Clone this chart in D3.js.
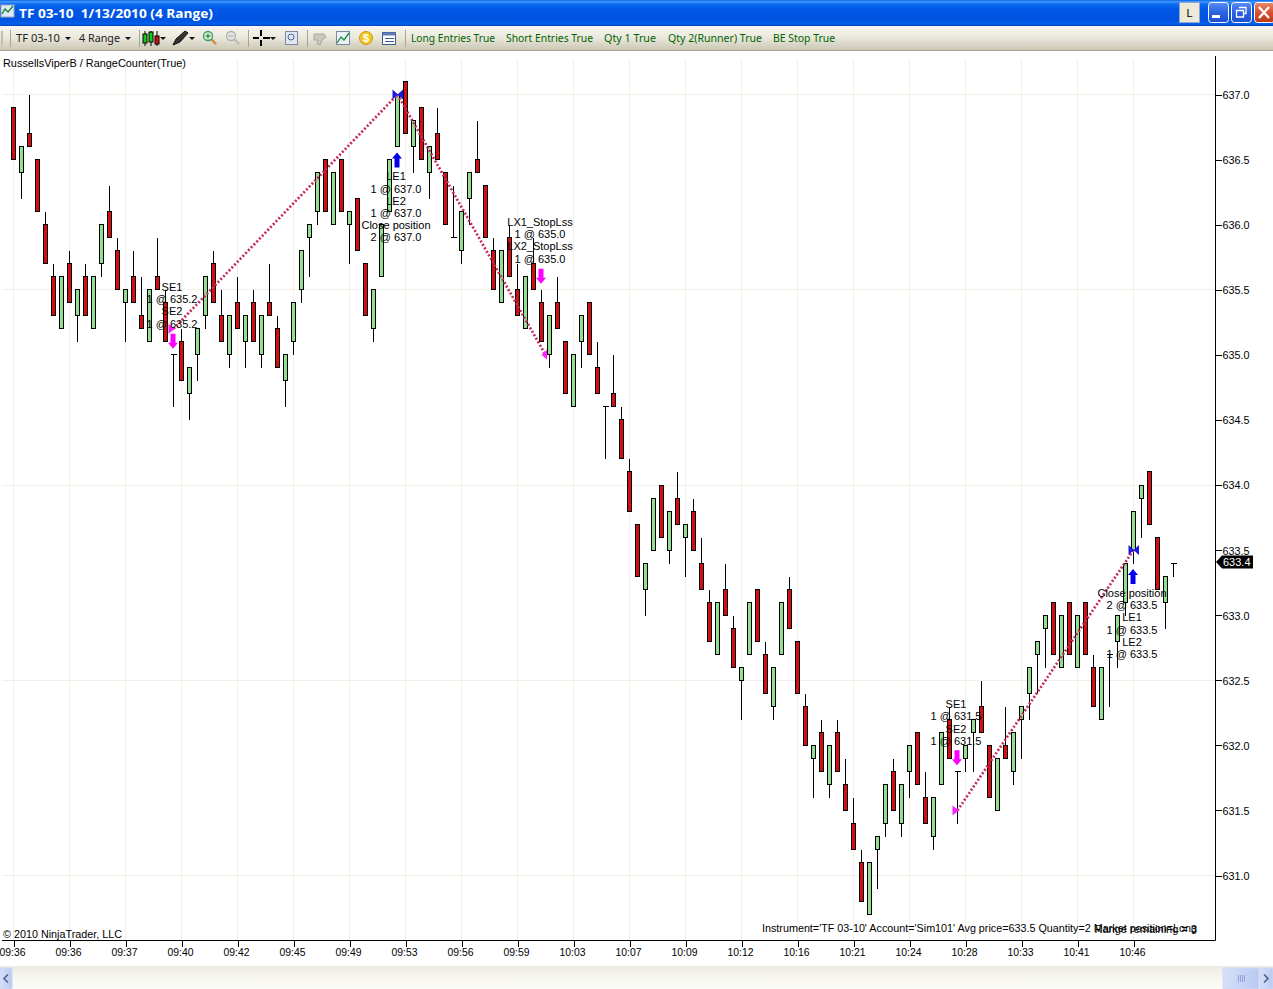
<!DOCTYPE html>
<html><head><meta charset="utf-8">
<script src="https://cdn.jsdelivr.net/npm/d3@7/dist/d3.min.js"></script>
<style>
html,body{margin:0;padding:0;background:#fff;overflow:hidden}
svg{display:block}
text{font-family:"Liberation Sans",Arial,sans-serif;font-size:11px;fill:#000;white-space:pre}
.ui{font-family:"Noto Sans",Tahoma,sans-serif}
</style></head><body>
<svg id="c" width="1273" height="989" xmlns="http://www.w3.org/2000/svg"></svg>
<script>
// ---- data ----
const opens = [636.9,636.4,636.7,636.5,636.0,635.6,635.2,635.7,635.3,635.6,635.2,635.7,636.1,635.8,635.4,635.6,635.3,635.1,635.6,635.4,
635.0,635.1,634.7,635.0,635.3,635.7,635.3,635.0,635.4,635.1,635.4,635.0,635.4,635.2,634.8,635.1,635.5,635.9,636.1,636.5,
636.0,636.5,636.0,636.2,635.7,635.2,635.6,636.1,636.6,637.1,636.6,636.9,636.4,636.7,636.4,635.9,635.8,636.2,636.5,636.3,
635.8,635.4,635.9,635.5,635.2,635.7,635.4,635.0,635.4,635.1,634.6,635.1,635.4,634.9,634.6,634.7,634.5,634.1,633.7,633.2,
633.5,634.0,633.5,633.9,633.6,633.8,633.4,633.1,632.7,633.2,632.9,632.5,632.7,633.2,632.7,632.3,632.7,633.2,632.8,632.3,
631.9,632.1,631.7,632.1,631.7,631.4,631.1,630.7,631.2,631.4,631.8,631.4,631.8,632.1,631.6,631.3,631.7,632.2,631.8,631.9,
632.1,632.3,632.0,631.5,632.0,631.8,632.2,632.4,632.7,632.9,633.1,632.6,633.1,632.6,633.1,632.6,632.2,632.7,632.8,633.1,
633.5,633.9,634.1,633.6,633.1,633.4];
const closes = [636.5,636.6,636.6,636.1,635.7,635.3,635.6,635.4,635.5,635.3,635.6,636.0,635.9,635.5,635.5,635.4,635.2,635.5,635.5,635.1,
635.0,634.8,634.9,635.2,635.6,635.4,635.1,635.3,635.2,635.3,635.1,635.3,635.3,634.9,635.0,635.4,635.8,636.0,636.4,636.1,
636.4,636.1,636.1,635.8,635.3,635.5,636.0,636.5,637.0,636.7,636.8,636.5,636.6,636.5,636.0,635.9,636.1,636.4,636.4,635.9,
635.5,635.8,635.6,635.3,635.6,635.5,635.1,635.3,635.2,634.7,635.0,635.3,635.0,634.7,634.6,634.6,634.2,633.8,633.3,633.4,
633.9,633.6,633.8,633.7,633.7,633.5,633.2,632.8,633.1,633.0,632.6,632.6,633.1,632.8,632.4,632.6,633.1,632.9,632.4,632.0,
632.0,631.8,632.0,631.8,631.5,631.2,630.8,631.1,631.3,631.7,631.5,631.7,632.0,631.7,631.4,631.6,632.1,631.9,631.8,632.0,
632.2,632.1,631.6,631.9,631.9,632.1,632.3,632.6,632.8,633.0,632.7,633.0,632.7,633.0,632.7,632.3,632.6,632.7,633.0,633.4,
633.8,634.0,633.7,633.2,633.3,633.4];
const highs = [636.9,636.6,637.0,636.5,636.1,635.7,635.6,635.8,635.5,635.7,635.6,636.0,636.3,635.9,635.5,635.8,635.6,635.5,635.9,635.5,
635.0,635.2,634.9,635.2,635.6,635.8,635.5,635.3,635.6,635.3,635.5,635.3,635.7,635.3,635.0,635.4,635.8,636.0,636.4,636.5,
636.4,636.5,636.1,636.2,635.7,635.5,636.0,636.5,637.0,637.1,636.8,636.9,636.6,636.9,636.4,636.3,636.1,636.4,636.8,636.3,
635.9,635.8,636.0,635.7,635.6,635.9,635.5,635.3,635.6,635.1,635.0,635.3,635.4,635.1,634.6,635.0,634.6,634.2,633.7,633.4,
633.9,634.0,633.8,634.1,633.7,633.9,633.6,633.2,633.1,633.4,633.0,632.6,633.1,633.2,632.8,632.6,633.1,633.3,632.8,632.4,
632.0,632.2,632.0,632.2,631.9,631.6,631.2,631.1,631.3,631.7,631.9,631.7,632.0,632.1,631.8,631.6,632.1,632.3,631.8,632.0,
632.2,632.5,632.0,631.9,632.3,632.1,632.3,632.6,632.8,633.0,633.1,633.0,633.1,633.0,633.1,632.7,632.6,632.7,633.0,633.4,
633.8,634.0,634.1,633.6,633.3,633.4];
const lows = [636.5,636.2,636.6,636.1,635.7,635.3,635.2,635.4,635.1,635.3,635.2,635.6,635.9,635.5,635.1,635.4,635.2,635.1,635.5,635.1,
634.6,634.8,634.5,634.8,635.2,635.4,635.1,634.9,635.2,634.9,635.1,634.9,635.3,634.9,634.6,635.0,635.4,635.6,636.0,636.1,
636.0,636.1,635.7,635.8,635.3,635.1,635.6,636.1,636.6,636.7,636.4,636.5,636.2,636.5,636.0,635.9,635.7,636.0,636.4,635.9,
635.5,635.4,635.6,635.3,635.2,635.5,635.1,634.9,635.2,634.7,634.6,634.9,635.0,634.7,634.2,634.6,634.2,633.8,633.3,633.0,
633.5,633.6,633.4,633.7,633.3,633.5,633.2,632.8,632.7,633.0,632.6,632.2,632.7,632.8,632.4,632.2,632.7,632.9,632.4,632.0,
631.6,631.8,631.6,631.8,631.5,631.2,630.8,630.7,630.9,631.3,631.5,631.3,631.6,631.7,631.4,631.2,631.7,631.9,631.4,631.8,
631.8,632.1,631.6,631.5,631.9,631.7,631.9,632.2,632.4,632.6,632.7,632.6,632.7,632.6,632.7,632.3,632.2,632.3,632.6,633.0,
633.4,633.6,633.7,633.2,632.9,633.3];
const timeLabels = ["09:36","09:36","09:37","09:40","09:42","09:45","09:49","09:53","09:56","09:59","10:03","10:07","10:09","10:12","10:16","10:21","10:24","10:28","10:33","10:41","10:46"];
const priceTicks = [637.0,636.5,636.0,635.5,635.0,634.5,634.0,633.5,633.0,632.5,632.0,631.5,631.0];
const priceGrid = [637.0,635.5,634.0,632.5,631.0];
const lastPrice = 633.4;
const tradeFromBars = [20,48,118];
const tradeFromPrices = [635.2,637.0,631.5];
const tradeToBars = [48,66.5,140];
const tradeToPrices = [637.0,635.0,633.5];
const arrowBars = [20,48,66,118,140];
const arrowDirs = ["down","up","down","down","up"];
const arrowColors = ["#ff00ff","#0000ee","#ff00ff","#ff00ff","#0000ee"];
const markBars = [20,48,66,118,140];
const markPrices = [635.2,637.0,635.0,631.5,633.5];
const markKinds = ["right","both","left","right","both"];
const markColors = ["#ff22ff","#1a1ae6","#ff22ff","#ff22ff","#1a1ae6"];
const noteBars = [20,48,66,118,140];
const noteTops = [635.49,636.34,635.99,632.285,633.14];
const noteLines = [
 ["SE1","1 @ 635.2","SE2","1 @ 635.2"],
 ["LE1","1 @ 637.0","LE2","1 @ 637.0","Close position","2 @ 637.0"],
 ["LX1_StopLss","1 @ 635.0","LX2_StopLss","1 @ 635.0"],
 ["SE1","1 @ 631.5","SE2","1 @ 631.5"],
 ["Close position","2 @ 633.5","LE1","1 @ 633.5","LE2","1 @ 633.5"]];
const toolLabels = ["Long Entries True","Short Entries True","Qty 1 True","Qty 2(Runner) True","BE Stop True"];

// ---- scales ----
const svg = d3.select("#c");
const x = d3.scaleLinear().domain([0,145]).range([13.5,1173.5]);
const y = d3.scaleLinear().domain([631,637]).range([875.5,94.5]);
const snap = v => Math.round(v-0.5)+0.5;
const BAR_EVERY = 7;
const gridBars = timeLabels.map((_,i)=>i*BAR_EVERY);

// ---- gradients ----
const defs = svg.append("defs");
function grad(id,stops,horizontal){
  const g=defs.append("linearGradient").attr("id",id).attr("x1",0).attr("y1",0).attr("x2",horizontal?1:0).attr("y2",horizontal?0:1);
  stops.forEach(s=>g.append("stop").attr("offset",s[0]).attr("stop-color",s[1]));
}
grad("gTitle",[[0,"#0a5ee0"],[.06,"#3f97ff"],[.16,"#0d6cf2"],[.35,"#0058e6"],[.75,"#0053e0"],[.92,"#0460ee"],[1,"#0042b8"]]);
grad("gTool",[[0,"#f8f6f0"],[.45,"#ebe8de"],[.85,"#d2cfbd"],[1,"#c6c3af"]]);
grad("gBottom",[[0,"#ecebe2"],[.5,"#f6f5ef"],[1,"#fbfbf8"]]);
grad("gBtn",[[0,"#5b8df5"],[.5,"#2a62e4"],[1,"#1f4fd0"]]);
grad("gClose",[[0,"#e88a6c"],[.5,"#d8512e"],[1,"#b93a1a"]]);
grad("gScroll",[[0,"#d6e0fa"],[1,"#b9c9f2"]],true);

// ---- chart frame ----
const chart = svg.append("g");
chart.append("g").selectAll("line").data(gridBars).join("line")
  .attr("x1",d=>x(d)).attr("x2",d=>x(d)).attr("y1",59).attr("y2",940)
  .attr("stroke","#f0f0e6");
chart.append("g").selectAll("line").data(priceGrid).join("line")
  .attr("x1",2).attr("x2",1215).attr("y1",d=>snap(y(d))).attr("y2",d=>snap(y(d)))
  .attr("stroke","#f0f0e6");

// ---- candles ----
const idx = d3.range(opens.length);
chart.append("g").selectAll("line").data(idx).join("line")
  .attr("x1",i=>x(i)).attr("x2",i=>x(i))
  .attr("y1",i=>snap(y(highs[i]))).attr("y2",i=>snap(y(lows[i])))
  .attr("stroke","#000").attr("shape-rendering","crispEdges");
chart.append("g").selectAll("rect").data(idx.filter(i=>opens[i]!==closes[i])).join("rect")
  .attr("x",i=>x(i)-2).attr("width",4)
  .attr("y",i=>snap(y(Math.max(opens[i],closes[i]))))
  .attr("height",i=>snap(y(Math.min(opens[i],closes[i])))-snap(y(Math.max(opens[i],closes[i]))))
  .attr("fill",i=>closes[i]>opens[i]?"#90e090":"#d40f0f")
  .attr("stroke","#000").attr("shape-rendering","crispEdges");
chart.append("g").selectAll("line").data(idx.filter(i=>opens[i]===closes[i])).join("line")
  .attr("x1",i=>x(i)-3).attr("x2",i=>x(i)+3)
  .attr("y1",i=>snap(y(opens[i]))).attr("y2",i=>snap(y(opens[i])))
  .attr("stroke","#000").attr("shape-rendering","crispEdges");

// ---- trade lines ----
chart.append("g").selectAll("line").data(tradeFromBars).join("line")
  .attr("x1",(d,i)=>x(tradeFromBars[i])).attr("y1",(d,i)=>y(tradeFromPrices[i]))
  .attr("x2",(d,i)=>x(tradeToBars[i])).attr("y2",(d,i)=>y(tradeToPrices[i]))
  .attr("stroke","#c42a5c").attr("stroke-width",2.7).attr("stroke-dasharray","2 2");

// ---- execution marks ----
function markPath(kind){
  const right="M-5,-5L0.5,0L-5,5Z", left="M5.5,-5L0,0L5.5,5Z";
  return kind==="right"?"M-5,-5L1.5,0L-5,5Z":kind==="left"?left:right+left;
}
chart.append("g").selectAll("path").data(markBars).join("path")
  .attr("transform",(d,i)=>`translate(${x(d)},${y(markPrices[i])})`)
  .attr("d",(d,i)=>markPath(markKinds[i]))
  .attr("fill",(d,i)=>markColors[i]);

// ---- arrows ----
const ARROW_GAP=6, ARROW_LEN=15;
chart.append("g").selectAll("path").data(arrowBars).join("path")
  .attr("transform",(d,i)=>{
    const up=arrowDirs[i]==="up";
    const yy= up ? y(lows[d])+ARROW_GAP : y(highs[d])-ARROW_GAP;
    return `translate(${x(d)-0.5},${yy}) scale(1,${up?1:-1})`;
  })
  .attr("d",`M0,0L5,6L2.5,6L2.5,${ARROW_LEN}L-2.5,${ARROW_LEN}L-2.5,6L-5,6Z`)
  .attr("fill",(d,i)=>arrowColors[i]);

// ---- notes ----
const LINE_H=12.2;
const notes = chart.append("g");
noteBars.forEach((b,n)=>{
  const ty = y(noteTops[n]);
  noteLines[n].forEach((t,k)=>{
    notes.append("text").attr("x",x(b)-1.5).attr("y",ty+k*LINE_H).attr("text-anchor","middle").text(t);
  });
});

// ---- axes ----
const axisRight = d3.axisRight(y).tickValues(priceTicks).tickFormat(d3.format(".1f")).tickSize(6).tickPadding(1);
const gR = svg.append("g").attr("transform","translate(1215.5,0)").call(axisRight);
gR.select(".domain").remove();
gR.append("line").attr("y1",56).attr("y2",940.5).attr("stroke","#000");
gR.selectAll("text").style("font-size","11px").style("font-family",'"Liberation Sans",Arial').attr("fill","#000").attr("dy","0.36em").attr("textLength",27).attr("lengthAdjust","spacingAndGlyphs");
gR.selectAll(".tick line").attr("stroke","#000").attr("shape-rendering","crispEdges");

const axisBottom = d3.axisBottom(x).tickValues(gridBars).tickFormat((d,i)=>timeLabels[i]).tickSize(6).tickPadding(2);
const gB = svg.append("g").attr("transform","translate(0,940.5)").call(axisBottom);
gB.select(".domain").remove();
gB.append("line").attr("x1",2).attr("x2",1215.5).attr("stroke","#000");
gB.selectAll("text").style("font-size","11px").style("font-family",'"Liberation Sans",Arial').attr("fill","#000").attr("x",-1.5).attr("textLength",26).attr("lengthAdjust","spacingAndGlyphs");
gB.selectAll(".tick line").attr("stroke","#000").attr("shape-rendering","crispEdges");

// ---- last price tag ----
const lp = snap(y(lastPrice))-1.5;
svg.append("path").attr("d",`M1216,${lp}L1222,${lp-6.5}L1253,${lp-6.5}L1253,${lp+6.5}L1222,${lp+6.5}Z`).attr("fill","#000");
svg.append("text").attr("x",1223).attr("y",lp+4).style("fill","#fff").text(d3.format(".1f")(lastPrice));

// ---- chart captions ----
svg.append("text").attr("x",3).attr("y",67).attr("textLength",183).attr("lengthAdjust","spacingAndGlyphs").text("RussellsViperB / RangeCounter(True)");
svg.append("text").attr("x",3).attr("y",938).attr("textLength",119).attr("lengthAdjust","spacingAndGlyphs").text("© 2010 NinjaTrader, LLC");
svg.append("text").attr("x",762).attr("y",932).attr("textLength",435).attr("lengthAdjust","spacingAndGlyphs").text("Instrument='TF 03-10' Account='Sim101' Avg price=633.5 Quantity=2 Market position=Long");
svg.append("text").attr("x",1197).attr("y",933).attr("text-anchor","end").text("Range remaining = 3");

// ---- window chrome ----
const ui = svg.append("g");
ui.append("rect").attr("width",1273).attr("height",26).attr("fill","url(#gTitle)");
ui.append("text").attr("x",19).attr("y",18).attr("textLength",194).attr("lengthAdjust","spacingAndGlyphs")
  .style("font-family",'"Open Sans",sans-serif').style("font-size","13px").style("font-weight","700").style("fill","#fff")
  .text("TF 03-10  1/13/2010 (4 Range)");
// title icon
ui.append("rect").attr("x",1).attr("y",5).attr("width",13).attr("height",12).attr("fill","#dfe8f4").attr("stroke","#9ab");
ui.append("path").attr("d","M2,14L5,9L8,12L13,6").attr("fill","none").attr("stroke","#1a8a3a").attr("stroke-width",1.4);
// buttons
ui.append("rect").attr("x",1179.5).attr("y",2.5).attr("width",20).attr("height",20).attr("fill","#ece9d8").attr("stroke","#8fa6cc");
ui.append("text").attr("x",1189.5).attr("y",17).attr("text-anchor","middle").text("L");
[[1208,"url(#gBtn)"],[1231,"url(#gBtn)"],[1254,"url(#gClose)"]].forEach(b=>{
  ui.append("rect").attr("x",b[0]+.5).attr("y",2.5).attr("width",20).attr("height",20).attr("rx",3).attr("fill",b[1]).attr("stroke","#fff");
});
ui.append("rect").attr("x",1212).attr("y",15).attr("width",8).attr("height",3).attr("fill","#fff");
ui.append("path").attr("d","M1239,7.5h7v6h-2M1236.5,10.5h7v6.5h-7Z").attr("fill","none").attr("stroke","#fff").attr("stroke-width",1.3);
ui.append("path").attr("d","M1259,7L1269,18M1269,7L1259,18").attr("stroke","#fff").attr("stroke-width",2.4);

// toolbar
ui.append("rect").attr("y",26).attr("width",1273).attr("height",25).attr("fill","url(#gTool)");
ui.append("line").attr("x1",0).attr("x2",1273).attr("y1",50.5).attr("y2",50.5).attr("stroke","#a8a690");
[10,139,248,307,405].forEach(s=>ui.append("line").attr("x1",s+.5).attr("x2",s+.5).attr("y1",30).attr("y2",47).attr("stroke","#a8a690"));
ui.append("rect").attr("x",1).attr("y",31).attr("width",2).attr("height",14).attr("fill","#c0bdaa");
[["TF 03-10",16,44],["4 Range",79,41]].forEach(t=>ui.append("text").attr("class","ui").attr("x",t[0]==="TF 03-10"?16:79).attr("y",42).attr("textLength",t[2]).attr("lengthAdjust","spacingAndGlyphs").style("fill","#222").text(t[0]));
[68,128,163,192,273].forEach(a=>ui.append("path").attr("d",`M${a-3},37L${a+3},37L${a},40Z`).attr("fill","#111"));
const toolX=[411,506,604,668,773], toolW=[84,87,52,94,62];
ui.selectAll(".tl").data(toolLabels).join("text").attr("class","ui tl").attr("x",(d,i)=>toolX[i]).attr("y",42)
  .attr("textLength",(d,i)=>toolW[i]).attr("lengthAdjust","spacingAndGlyphs").style("fill","#006400").text(d=>d);
// toolbar icons
[[145,"#18c818",34,43],[151,"#18c818",32,42],[157,"#d01010",36,44]].forEach(c=>{
  ui.append("line").attr("x1",c[0]).attr("x2",c[0]).attr("y1",31).attr("y2",46).attr("stroke","#000");
  ui.append("rect").attr("x",c[0]-2).attr("y",c[2]).attr("width",4).attr("height",c[3]-c[2]).attr("fill",c[1]).attr("stroke","#000");
});
ui.append("path").attr("d","M173,45L176,39L185,31L188,33L180,42Z").attr("fill","#333").attr("stroke","#111");
function mag(cx,col,sym){
  ui.append("line").attr("x1",cx+3).attr("y1",39).attr("x2",cx+8).attr("y2",44).attr("stroke",col==="g"?"#d08838":"#bbb").attr("stroke-width",2.4);
  ui.append("circle").attr("cx",cx).attr("cy",36).attr("r",4.5).attr("fill",col==="g"?"#d8f0d8":"#e4e4e0").attr("stroke",col==="g"?"#3a9a6a":"#b0b0b0").attr("stroke-width",1.3);
  ui.append("path").attr("d",sym).attr("stroke",col==="g"?"#117711":"#aaa").attr("fill","none");
}
mag(208,"g","M205.5,36h5M208,33.5v5");
mag(231,"x","M228.5,36h5");
ui.append("path").attr("d","M253,38h6M263,38h7M261,30v6M261,40v6").attr("stroke","#000").attr("stroke-width",2);
ui.append("rect").attr("x",285.5).attr("y",31.5).attr("width",12).attr("height",13).attr("fill","#dfe7f2").attr("stroke","#7a8aa0");
ui.append("circle").attr("cx",291).attr("cy",37).attr("r",3).attr("fill","none").attr("stroke","#4a6a9a");
ui.append("path").attr("d","M314,34h10l2,3l-4,3l-2,5l-3,-1l1,-4h-4Z").attr("fill","#c8c8c0").attr("stroke","#a8a8a0");
ui.append("rect").attr("x",336.5).attr("y",31.5).attr("width",13).attr("height",13).attr("fill","#eef2f6").attr("stroke","#7a8aa0");
ui.append("path").attr("d","M337,43L341,37L344,40L349,33").attr("fill","none").attr("stroke","#1a8a3a").attr("stroke-width",1.3);
ui.append("circle").attr("cx",366).attr("cy",38).attr("r",6.5).attr("fill","#f2c81e").attr("stroke","#c89a10");
ui.append("text").attr("x",366).attr("y",42).attr("text-anchor","middle").style("fill","#fff").style("font-weight","700").text("$");
ui.append("rect").attr("x",382.5).attr("y",32.5).attr("width",13).attr("height",12).attr("fill","#fff").attr("stroke","#445a8a");
ui.append("rect").attr("x",382.5).attr("y",32.5).attr("width",13).attr("height",3).attr("fill","#5c7cb8");
ui.append("path").attr("d","M385,38.5h9M385,41.5h9").attr("stroke","#445a8a");

// bottom strip
ui.append("rect").attr("y",966).attr("width",1273).attr("height",23).attr("fill","url(#gBottom)");
ui.append("rect").attr("x",0).attr("y",968).attr("width",12).attr("height",21).attr("rx",1).attr("fill","url(#gScroll)").attr("stroke","#cdd8f2");
ui.append("path").attr("d","M8,974.5L4,978.5L8,982.5").attr("fill","none").attr("stroke","#4d6185").attr("stroke-width",1.6);
ui.append("rect").attr("x",1223).attr("y",968).attr("width",36).attr("height",21).attr("rx",1).attr("fill","url(#gScroll)").attr("stroke","#cdd8f2");
ui.append("path").attr("d","M1238.5,975v7M1240.5,975v7M1242.5,975v7M1244.5,975v7").attr("stroke","#8fa4d8");
ui.append("rect").attr("x",1260).attr("y",968).attr("width",13).attr("height",21).attr("rx",1).attr("fill","url(#gScroll)").attr("stroke","#cdd8f2");
ui.append("path").attr("d","M1264,974.5L1268,978.5L1264,982.5").attr("fill","none").attr("stroke","#4d6185").attr("stroke-width",1.6);
</script>
</body></html>
